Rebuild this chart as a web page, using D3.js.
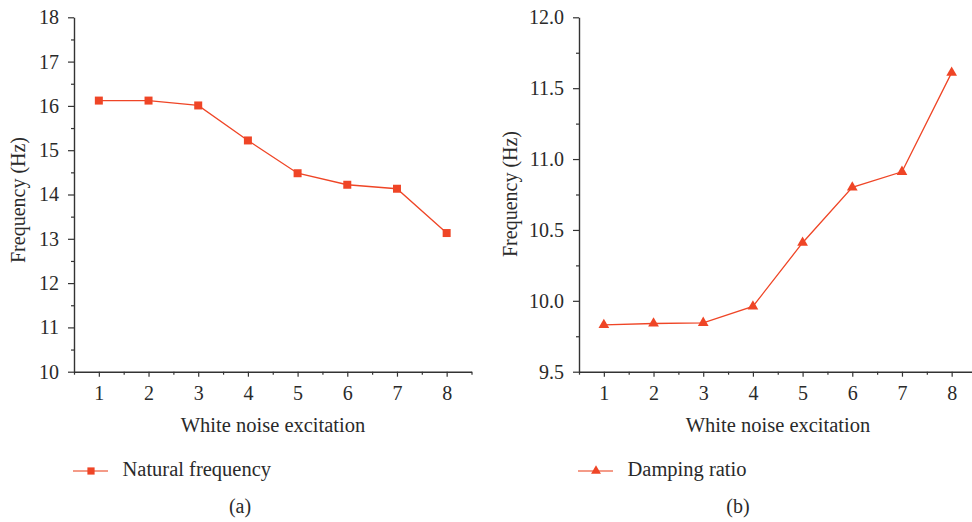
<!DOCTYPE html>
<html>
<head>
<meta charset="utf-8">
<script src="https://cdn.jsdelivr.net/npm/d3@7"></script>
<style>
  html, body { margin: 0; padding: 0; background: #fff; }
  svg { display: block; }
</style>
</head>
<body>
<svg id="chart" width="972" height="522" font-family="Liberation Serif"></svg>
<script>
// White noise excitation index
const excitations = [1, 2, 3, 4, 5, 6, 7, 8];
// Panel (a): natural frequency (Hz)
const naturalFrequency = [16.12, 16.12, 16.01, 15.22, 14.48, 14.22, 14.13, 13.13];
// Panel (b): damping ratio
const dampingRatio = [9.83, 9.84, 9.845, 9.96, 10.41, 10.80, 10.91, 11.61];

const leftTicks = [10, 11, 12, 13, 14, 15, 16, 17, 18];
const rightTicks = [9.5, 10.0, 10.5, 11.0, 11.5, 12.0];

const FONT = "Liberation Serif";
const color = "#ef4526";
const axisColor = "#333";
const textColor = "#2a2a2a";

const svg = d3.select("#chart");

function styleText(sel, size) {
  sel.attr("font-family", FONT).attr("font-size", size).attr("fill", textColor);
}

function panel(opts) {
  const g = svg.append("g");
  const x = d3.scaleLinear().domain([0.5, 8.5]).range([opts.x0, opts.x0 + 397.5]);
  const y = d3.scaleLinear().domain(opts.domain).range([371.7, 17.3]);

  // x axis: major ticks on integers, minor on halves
  const xMinor = d3.range(0.5, 8.51, 0.5).filter(v => v % 1 !== 0);
  g.append("g").attr("transform", "translate(0,371.7)")
    .call(d3.axisBottom(x).tickValues(xMinor).tickSize(3).tickFormat(""))
    .call(a => a.select(".domain").remove())
    .call(a => a.selectAll("line").attr("stroke", axisColor).attr("stroke-width", 1.2));
  g.append("g").attr("transform", "translate(0,371.7)")
    .call(d3.axisBottom(x).tickValues(excitations).tickSize(5).tickSizeOuter(0).tickPadding(9))
    .call(a => a.select(".domain").attr("stroke", axisColor).attr("stroke-width", 1.4))
    .call(a => a.selectAll("line").attr("stroke", axisColor).attr("stroke-width", 1.2))
    .call(a => a.attr("font-family", FONT))
    .call(a => styleText(a.selectAll("text"), 20));

  // y axis with minor ticks between labelled values
  g.append("g").attr("transform", `translate(${opts.x0},0)`)
    .call(d3.axisLeft(y).tickValues(opts.minor).tickSize(3).tickFormat(""))
    .call(a => a.select(".domain").remove())
    .call(a => a.selectAll("line").attr("stroke", axisColor).attr("stroke-width", 1.2));
  g.append("g").attr("transform", `translate(${opts.x0},0)`)
    .call(d3.axisLeft(y).tickValues(opts.ticks).tickSize(6).tickSizeOuter(0).tickPadding(9).tickFormat(opts.fmt))
    .call(a => a.select(".domain").attr("stroke", axisColor).attr("stroke-width", 1.4))
    .call(a => a.selectAll("line").attr("stroke", axisColor).attr("stroke-width", 1.2))
    .call(a => a.attr("font-family", FONT))
    .call(a => styleText(a.selectAll("text"), 20));

  // axis titles
  styleText(g.append("text").attr("x", opts.x0 + 199).attr("y", 432)
    .attr("text-anchor", "middle").text("White noise excitation"), 20.5);
  styleText(g.append("text")
    .attr("transform", `translate(${opts.x0 - opts.ylabelOffset},${opts.ylabelMid}) rotate(-90)`)
    .attr("text-anchor", "middle").text("Frequency (Hz)"), 20);

  // data line and markers
  const pts = excitations.map((e, i) => [e, opts.values[i]]);
  g.append("path").datum(pts)
    .attr("fill", "none").attr("stroke", color).attr("stroke-width", 1.3)
    .attr("d", d3.line().x(d => x(d[0])).y(d => y(d[1])));
  const sym = d3.symbol().type(opts.symbol).size(opts.symSize);
  g.selectAll(".mk").data(pts).join("path")
    .attr("transform", d => `translate(${x(d[0])},${y(d[1])})`)
    .attr("d", sym).attr("fill", color);

  // legend
  const ly = 471;
  g.append("line").attr("x1", opts.x0 - 1).attr("x2", opts.x0 + 34).attr("y1", ly).attr("y2", ly)
    .attr("stroke", "#f07a60").attr("stroke-width", 1.3);
  g.append("path").attr("transform", `translate(${opts.x0 + 17},${ly})`)
    .attr("d", d3.symbol().type(opts.symbol).size(opts.legendSize)).attr("fill", color);
  styleText(g.append("text").attr("x", opts.x0 + 48.5).attr("y", 476).text(opts.legend), 20.5);

  // panel letter
  styleText(g.append("text").attr("x", opts.x0 + opts.letterDx).attr("y", 513)
    .attr("text-anchor", "middle").text(opts.letter), 20);
}

panel({
  x0: 74, domain: [10, 18], ticks: leftTicks,
  minor: d3.range(10.5, 18, 1), fmt: d3.format("d"),
  values: naturalFrequency, symbol: d3.symbolSquare, symSize: 64, legendSize: 52,
  legend: "Natural frequency", letter: "(a)", letterDx: 166,
  ylabelOffset: 49, ylabelMid: 200
});

panel({
  x0: 579, domain: [9.5, 12.0], ticks: rightTicks,
  minor: [9.75, 10.25, 10.75, 11.25, 11.75], fmt: d3.format(".1f"),
  values: dampingRatio, symbol: d3.symbolTriangle, symSize: 50, legendSize: 42,
  legend: "Damping ratio", letter: "(b)", letterDx: 159,
  ylabelOffset: 62, ylabelMid: 194
});
</script>
</body>
</html>
